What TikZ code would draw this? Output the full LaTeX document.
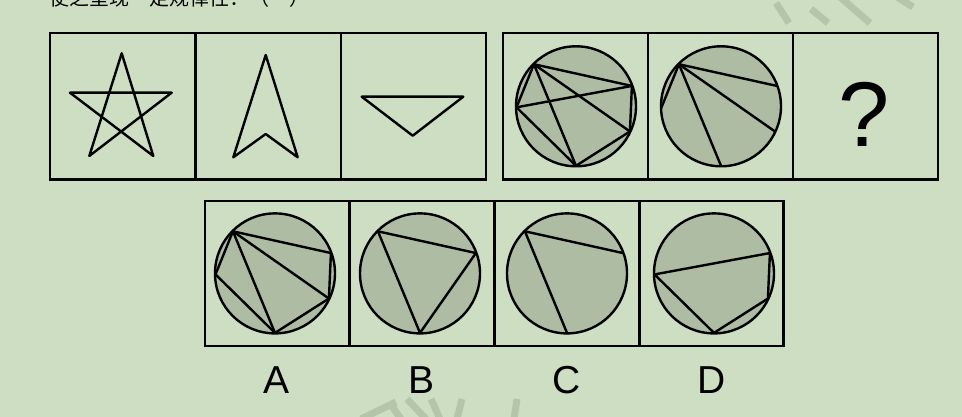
\documentclass[tikz,border=0pt]{standalone}
\usepackage{fontspec}
\setmainfont{Liberation Sans}
\newfontfamily\cjkfont{Noto Sans CJK SC}
\usetikzlibrary{calc}
\definecolor{bg}{HTML}{CDDEC3}
\definecolor{ringfill}{HTML}{AEBCA3}
\definecolor{wm}{HTML}{B5C6A8}
\newcommand\ringat[2]{%
  \coordinate (#1) at (#2);
  \fill[ringfill] (#1) circle[radius=60];
  \coordinate (#1-h) at ($(#1)+(135:59.5)$);
  \coordinate (#1-r) at ($(#1)+(20:59.5)$);
  \coordinate (#1-s) at ($(#1)+(-25:59.5)$);
  \coordinate (#1-b) at ($(#1)+(270:59.5)$);
  \coordinate (#1-l) at ($(#1)+(181:59.5)$);
}
\begin{document}
\begin{tikzpicture}[x=1pt,y=1pt,
  boxline/.style={line width=2.8pt,draw=black},
  figline/.style={line width=2.4pt,draw=black,line join=round,line cap=round},
  wmark/.style={line width=7pt,draw=wm},
  label/.style={font=\fontsize{39}{39}\selectfont,anchor=base,inner sep=0pt}]
\useasboundingbox (0,0) rectangle (962,417);
\fill[bg] (0,0) rectangle (962,417);
\begin{scope}
\clip (0,0) rectangle (962,417);
\node[anchor=base west,font=\cjkfont\fontsize{20}{20}\selectfont,inner sep=0pt] (title) at (49,411) {使之呈现一定规律性：（　）};
% watermark strokes
\draw[wmark] (776,414) -- (789,394);
\draw[wmark] (811,408) -- (828,394);
\draw[wmark] (840,420) -- (870,394);
\draw[wmark] (897,420) -- (913,410);
\draw[wmark] (361,-2) -- (396,15);
\draw[wmark] (389,15) -- (401,-2);
\draw[wmark] (407,18) -- (426,-2);
\draw[wmark] (431,18) -- (440,-2);
\draw[wmark] (462,18) -- (457,-2);
\draw[wmark] (517,18) -- (514,-2);
\end{scope}

% ---- top left group
\draw[boxline] (50,237.5) rectangle (195.5,384);
\draw[boxline] (195.5,237.5) rectangle (341,384);
\draw[boxline] (341,237.5) rectangle (486,384);
% star
\coordinate (st) at (121.7,363.7);
\coordinate (sl) at (70,324.3);
\coordinate (sr) at (171.7,324.3);
\coordinate (sbl) at (89.3,261);
\coordinate (sbr) at (153.3,261);
\draw[figline] (st) -- (sbl) -- (sr) -- (sl) -- (sbr) -- cycle;
% arrow head
\coordinate (at) at (265.7,362);
\coordinate (abl) at (233.3,259.7);
\coordinate (an) at (265.7,283);
\coordinate (abr) at (297.7,259.7);
\draw[figline] (at) -- (abl) -- (an) -- (abr) -- cycle;
% triangle
\coordinate (tl) at (361.7,320.3);
\coordinate (tr) at (463.3,320.3);
\coordinate (tb) at (412.7,281.3);
\draw[figline] (tl) -- (tr) -- (tb) -- cycle;

% ---- top right group
\draw[boxline] (503,237.5) rectangle (648,384);
\draw[boxline] (648,237.5) rectangle (793,384);
\draw[boxline] (793,237.5) rectangle (938,384);
\ringat{p}{576,310.7}
\draw[figline] (p-h) -- (p-r);
\draw[figline] (p-h) -- (p-s);
\draw[figline] (p-h) -- (p-b);
\draw[figline] (p-h) -- (p-l);
\draw[figline] (p-l) -- (p-r);
\draw[figline] (p-l) -- (p-b);
\draw[figline] (p-b) -- (p-s);
\draw[figline] (p-r) -- (p-s);
\draw[figline] (p) circle[radius=60];
\ringat{q}{721,310.7}
\draw[figline] (q-h) -- (q-r);
\draw[figline] (q-h) -- (q-s);
\draw[figline] (q-h) -- (q-b);
\draw[figline] (q-h) -- (q-l);
\draw[figline] (q) circle[radius=60];
\node[font=\fontsize{92}{92}\selectfont,anchor=base,inner sep=0pt] (qm) at (864.5,270.3) {?};

% ---- options
\draw[boxline] (205,71) rectangle (349.5,216);
\draw[boxline] (349.5,71) rectangle (494.5,216);
\draw[boxline] (494.5,71) rectangle (639.5,216);
\draw[boxline] (639.5,71) rectangle (783.5,216);
\ringat{a}{275,143.6}
\draw[figline] (a-h) -- (a-r);
\draw[figline] (a-h) -- (a-s);
\draw[figline] (a-h) -- (a-b);
\draw[figline] (a-h) -- (a-l);
\draw[figline] (a-l) -- (a-b);
\draw[figline] (a-b) -- (a-s);
\draw[figline] (a-r) -- (a-s);
\draw[figline] (a) circle[radius=60];
\ringat{b}{420,143.6}
\draw[figline] (b-h) -- (b-r) -- (b-b) -- cycle;
\draw[figline] (b) circle[radius=60];
\ringat{c}{567,143.6}
\draw[figline] (c-r) -- (c-h) -- (c-b);
\draw[figline] (c) circle[radius=60];
\ringat{d}{714,143.6}
\draw[figline] (d-l) -- (d-r) -- (d-s) -- (d-b) -- cycle;
\draw[figline] (d) circle[radius=60];

\node[label] (la) at (277,23) {A};
\node[label] (lb) at (422,23) {B};
\node[label] (lc) at (567,23) {C};
\node[label] (ld) at (711.5,23) {D};
\end{tikzpicture}
\end{document}
